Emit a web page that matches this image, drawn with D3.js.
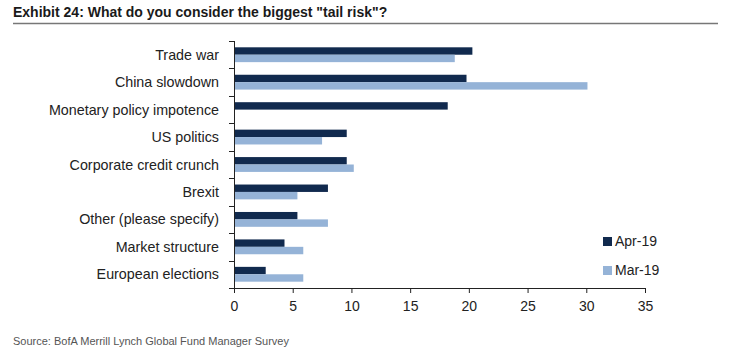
<!DOCTYPE html>
<html>
<head>
<meta charset="utf-8">
<script src="https://cdn.jsdelivr.net/npm/d3@7"></script>
<style>
body { margin: 0; background: #fff; }
svg { display: block; font-family: "Liberation Sans", Arial, sans-serif; }
</style>
</head>
<body>
<svg id="chart" width="733" height="358"></svg>
<script>
const categories = ['Trade war', 'China slowdown', 'Monetary policy impotence', 'US politics',
    'Corporate credit crunch', 'Brexit', 'Other (please specify)', 'Market structure', 'European elections'];
const apr19 = [20.3, 19.8, 18.2, 9.6, 9.6, 8.0, 5.4, 4.3, 2.7];
const mar19 = [18.8, 30.1, 0, 7.5, 10.2, 5.4, 8.0, 5.9, 5.9];
const series_names = ['Apr-19', 'Mar-19'];
const series_colors = ['#112a4e', '#95b3d7'];
const x_ticks = [0, 5, 10, 15, 20, 25, 30, 35];

const svg = d3.select('#chart');
const margin = {top: 41, left: 234, right: 88, bottom: 70};
const width = +svg.attr('width') - margin.left - margin.right;
const height = +svg.attr('height') - margin.top - margin.bottom;

// title + rule
svg.append('text')
    .attr('x', 13).attr('y', 17)
    .style('font-size', '14px').style('font-weight', 'bold').style('fill', '#1a1a1a')
    .text('Exhibit 24: What do you consider the biggest "tail risk"?');
svg.append('line')
    .attr('x1', 13).attr('x2', 718).attr('y1', 23.5).attr('y2', 23.5)
    .attr('stroke', '#777').attr('stroke-width', 1.5);

const x = d3.scaleLinear().domain([0, 35]).range([0, width]);
const y = d3.scaleBand().domain(categories).range([0, height]);
const inner = d3.scaleBand().domain(series_names).range([0, y.bandwidth()]).paddingOuter(0.85);

const g = svg.append('g').attr('transform', 'translate(' + margin.left + ',' + margin.top + ')');

const rows = categories.map((c, i) => ({cat: c, vals: [apr19[i], mar19[i]]}));

g.selectAll('g.row')
    .data(rows)
    .enter().append('g')
    .attr('class', 'row')
    .attr('transform', (d) => 'translate(0,' + y(d.cat) + ')')
    .selectAll('rect')
    .data((d) => d.vals.map((v, k) => ({name: series_names[k], val: v, color: series_colors[k]})))
    .enter().append('rect')
    .attr('x', x(0))
    .attr('y', (d) => inner(d.name))
    .attr('width', (d) => x(d.val) - x(0))
    .attr('height', inner.bandwidth())
    .attr('fill', (d) => d.color);

// y axis: ticks between categories, labels on band centres
const yAxisG = g.append('g');
yAxisG.append('line')
    .attr('x1', 0.5).attr('x2', 0.5).attr('y1', 0).attr('y2', height)
    .attr('stroke', '#222');
yAxisG.selectAll('line.sep')
    .data(categories.concat(['end']))
    .enter().append('line')
    .attr('class', 'sep')
    .attr('x1', -5).attr('x2', 0.5)
    .attr('y1', (d, i) => Math.round(i * y.step()) + 0.5)
    .attr('y2', (d, i) => Math.round(i * y.step()) + 0.5)
    .attr('stroke', '#222');
yAxisG.selectAll('text')
    .data(categories)
    .enter().append('text')
    .attr('x', -15)
    .attr('y', (d) => y(d) + y.bandwidth() / 2)
    .attr('dy', '0.35em')
    .attr('text-anchor', 'end')
    .style('font-size', '14.3px').style('fill', '#222')
    .text((d) => d);

// x axis
const xAxis = g.append('g')
    .attr('transform', 'translate(0,' + height + ')')
    .call(d3.axisBottom(x).tickValues(x_ticks).tickSize(5).tickPadding(8));
xAxis.select('.domain').attr('stroke', '#222');
xAxis.selectAll('.tick line').attr('stroke', '#222');
xAxis.selectAll('.tick text')
    .style('font-size', '14px').style('fill', '#222')
    .style('font-family', '"Liberation Sans", Arial, sans-serif');

// legend
const legend = svg.append('g').attr('transform', 'translate(603,237)');
series_names.forEach((name, k) => {
    const lg = legend.append('g').attr('transform', 'translate(0,' + (k * 29) + ')');
    lg.append('rect').attr('width', 9).attr('height', 9).attr('fill', series_colors[k]);
    lg.append('text')
        .attr('x', 12).attr('y', 4.5).attr('dy', '0.35em')
        .style('font-size', '14px').style('fill', '#222')
        .text(name);
});

// source
svg.append('text')
    .attr('x', 13).attr('y', 345)
    .style('font-size', '11px').style('fill', '#555')
    .text('Source: BofA Merrill Lynch Global Fund Manager Survey');
</script>
</body>
</html>
